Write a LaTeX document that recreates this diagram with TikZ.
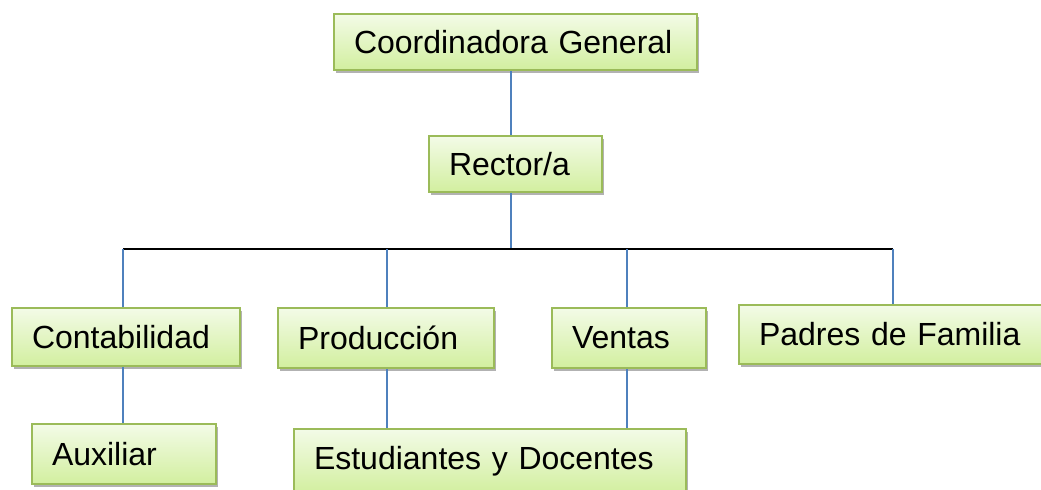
\documentclass[tikz,border=0pt]{standalone}
\usepackage{fontspec}
\setmainfont{Liberation Sans}
\usetikzlibrary{shadows}

\definecolor{boxgreen}{HTML}{9BBB59}
\definecolor{filltop}{HTML}{F3FBE7}
\definecolor{fillbottom}{HTML}{D2EF9F}
\definecolor{linkblue}{HTML}{4F81BD}

\tikzset{every picture/.style={line width=0.75pt}}
\tikzset{
  orgbox/.style={draw=boxgreen, line width=1.5pt, top color=filltop, bottom color=fillbottom,
    drop shadow={shadow xshift=1.5pt, shadow yshift=-2.5pt, fill=black, opacity=0.3},
    anchor=north west, inner xsep=15pt, inner ysep=0pt, align=left,
    font=\fontsize{24}{28}\selectfont},
  link/.style={color=linkblue, line width=0.9pt},
  barline/.style={color=black, line width=1.1pt}
}

\begin{document}
\begin{tikzpicture}[x=0.75pt,y=0.75pt,yscale=-1,xscale=1]
\useasboundingbox (0,0) rectangle (1041,489);

% Boxes
\node [orgbox, text width=242.25pt, minimum height=42pt] (coord) at (333,13) {Coordinadora General};
\node [orgbox, text width=99.75pt, minimum height=42pt] (rector) at (428,135) {Rector/a};
\node [orgbox, text width=141pt, minimum height=43.5pt] (contab) at (11,307) {Contabilidad};
\node [orgbox, text width=132pt, minimum height=45pt] (prod) at (277,307) {Producción};
\node [orgbox, text width=85.5pt, minimum height=45pt] (ventas) at (551,307) {Ventas};
\node [orgbox, text width=200.25pt, minimum height=44.25pt] (padres) at (738,304) {Padres de Familia};
\node [orgbox, text width=108pt, minimum height=45pt] (aux) at (31,423) {Auxiliar};
\node [orgbox, text width=264pt, minimum height=48pt] (est) at (293,428) {Estudiantes y Docentes};

% Branch points on the bar
\coordinate (jr) at (511,249);
\coordinate (jc) at (123,249);
\coordinate (jp) at (387,249);
\coordinate (jv) at (627,249);
\coordinate (jf) at (893,249);

% Connectors
\draw [link] (jr |- coord.south) -- (jr |- rector.north);
\draw [link] (jr |- rector.south) -- (jr);
\draw [barline] (jc) -- (jf);
\draw [link] (jc) -- (jc |- contab.north);
\draw [link] (jp) -- (jp |- prod.north);
\draw [link] (jv) -- (jv |- ventas.north);
\draw [link] (jf) -- (jf |- padres.north);
\draw [link] (jc |- contab.south) -- (jc |- aux.north);
\draw [link] (jp |- prod.south) -- (jp |- est.north);
\draw [link] (jv |- ventas.south) -- (jv |- est.north);

\end{tikzpicture}
\end{document}
